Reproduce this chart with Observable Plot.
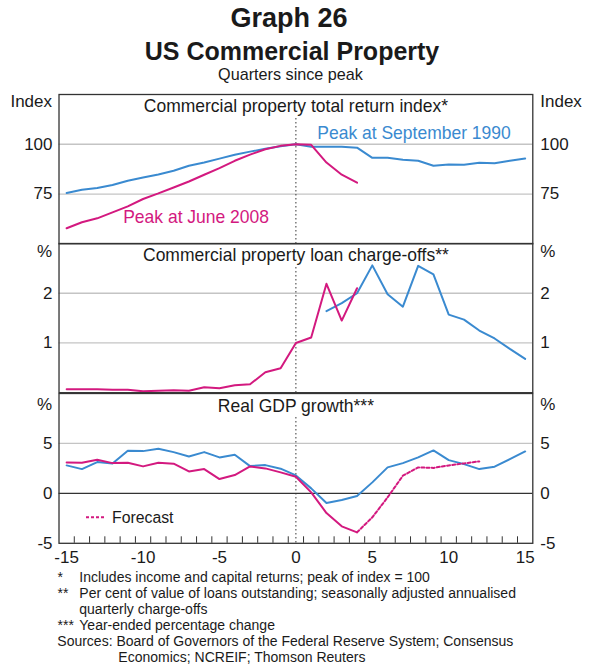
<!DOCTYPE html>
<html><head><meta charset="utf-8">
<script src="https://cdn.jsdelivr.net/npm/d3@7"></script>
<script src="https://cdn.jsdelivr.net/npm/@observablehq/plot@0.6"></script>
<style>
body{margin:0;background:#fff}
#root{position:relative;width:590px;height:666px;font-family:"Liberation Sans",Arial,sans-serif;color:#1a1a1a;overflow:hidden}
</style>
</head><body><div id="root"></div>
<script>
// ---------- DATA ----------
const quartersAll = [-15,-14,-13,-12,-11,-10,-9,-8,-7,-6,-5,-4,-3,-2,-1,0,1,2,3,4,5,6,7,8,9,10,11,12,13,14,15];
const quarters2008 = [-15,-14,-13,-12,-11,-10,-9,-8,-7,-6,-5,-4,-3,-2,-1,0,1,2,3,4];
const quartersChargeOffs1990 = [2,3,4,5,6,7,8,9,10,11,12,13,14,15];
const quartersForecast = [4,5,6,7,8,9,10,11,12];

const returnIndex1990 = [75.5,77.1,78.0,79.5,81.7,83.3,84.8,86.7,89.2,90.8,92.8,94.7,96.3,97.7,99.0,100,98.8,98.7,98.7,98.3,93.2,93.2,92.2,91.7,89.2,89.8,89.7,90.7,90.5,91.7,92.8];
const returnIndex2008 = [57.8,60.8,62.8,65.8,68.8,72.5,75.3,78.3,81.3,84.7,88.0,91.7,94.8,97.5,99.2,100,99.7,90.8,84.7,80.7];

const chargeOffs1990 = [1.64,1.80,2.0,2.56,1.98,1.73,2.55,2.38,1.57,1.47,1.25,1.09,0.88,0.68];
const chargeOffs2008 = [0.07,0.07,0.07,0.06,0.06,0.03,0.04,0.05,0.04,0.11,0.09,0.15,0.17,0.41,0.49,1.0,1.11,2.19,1.45,2.1];

const gdp1990 = [2.8,2.43,3.13,3.0,4.27,4.23,4.47,4.13,3.7,4.13,3.6,3.87,2.73,2.83,2.47,1.8,0.5,-0.97,-0.67,-0.27,1.1,2.6,3.03,3.6,4.3,3.33,2.93,2.43,2.67,3.43,4.2];
const gdp2008 = [3.1,3.07,3.37,3.03,3.07,2.7,3.07,2.97,2.2,2.43,1.43,1.83,2.7,2.5,2.1,1.67,0.1,-1.97,-3.3,-3.9];
const gdpForecast2008 = [-3.9,-2.4,-0.4,1.77,2.6,2.55,2.8,3.0,3.2];

const xTickLabels = [-15,-10,-5,0,5,10,15];
const xMinorTicks = [-14.5,-13.5,-12.5,-11.5,-10.5,-9.5,-8.5,-7.5,-6.5,-5.5,-4.5,-3.5,-2.5,-1.5,-0.5,0.5,1.5,2.5,3.5,4.5,5.5,6.5,7.5,8.5,9.5,10.5,11.5,12.5,13.5,14.5];
const yTicksReturn = [75,100];
const yTicksChargeOffs = [1,2];
const yTicksGdp = [-5,0,5];
const yGridGdp = [5];

const panelTitles = ["Commercial property total return index*", "Commercial property loan charge-offs**", "Real GDP growth***"];
const annotations = [
  {q: 1.4, v: 105.5, label: "Peak at September 1990", series: "1990"},
  {q: -11.3, v: 63.3, label: "Peak at June 2008", series: "2008"}
];
const footnotes = [
  {mark: "*", text: "Includes income and capital returns; peak of index = 100"},
  {mark: "**", text: "Per cent of value of loans outstanding; seasonally adjusted annualised"},
  {mark: "", text: "quarterly charge-offs"},
  {mark: "***", text: "Year-ended percentage change"}
];
const sources = ["Sources: Board of Governors of the Federal Reserve System; Consensus", "Economics; NCREIF; Thomson Reuters"];

// ---------- STYLE ----------
const FONT = '"Liberation Sans", Arial, sans-serif';
const BLUE = "#3a8ad0";
const PINK = "#d3197f";
const INK = "#1a1a1a";
const colors = {"1990": BLUE, "2008": PINK};

const zip = (qs, vs) => qs.map((q, i) => ({q, v: vs[i]}));
const root = document.getElementById("root");

function panel({top, frameH, mt, mb, yDomain, yTicks, grid, zero, unit, unitDy, title, titleDy, marks, bottomAxis}) {
  const height = frameH + mt + mb;
  const p = Plot.plot({
    width: 590, height,
    marginTop: mt, marginBottom: mb, marginLeft: 58.5, marginRight: 57.7,
    x: {domain: [-15.5, 15.5], axis: bottomAxis ? undefined : null},
    y: {domain: yDomain},
    style: {background: "transparent", overflow: "visible", fontFamily: FONT, fontSize: "17px", color: INK},
    marks: [
      Plot.ruleY(grid, {stroke: "#c4c4c4", strokeWidth: 1.3}),
      zero ? Plot.ruleY([0], {stroke: "#333", strokeWidth: 1.3}) : null,
      Plot.ruleX([0], {stroke: "#333", strokeWidth: 1, strokeDasharray: "1.5,2.5", insetTop: 24}),
      ...marks,
      Plot.axisY({anchor: "left", ticks: yTicks, tickSize: 0, tickPadding: 6.5, label: null, tickFormat: d => String(d)}),
      Plot.axisY({anchor: "right", ticks: yTicks, tickSize: 0, tickPadding: 7.5, label: null, tickFormat: d => String(d)}),
      Plot.text([unit], {text: d => d, frameAnchor: "top-left", lineAnchor: "middle", textAnchor: "end", dx: -7, dy: unitDy, fill: INK}),
      Plot.text([unit], {text: d => d, frameAnchor: "top-right", lineAnchor: "middle", textAnchor: "start", dx: 7.5, dy: unitDy, fill: INK}),
      Plot.text([title], {text: d => d, frameAnchor: "top", lineAnchor: "middle", dy: titleDy, fontSize: 17.5, fill: INK}),
      bottomAxis ? Plot.tickX(xMinorTicks, {x: d => d, stroke: "#333", strokeWidth: 1, insetTop: frameH - 6.5}) : null,
      bottomAxis ? Plot.axisX({anchor: "bottom", ticks: xTickLabels, tickSize: 0, tickPadding: 8, label: null, tickFormat: d => String(d)}) : null,
      Plot.frame({stroke: "#333", strokeWidth: 1.3})
    ]
  });
  p.style.position = "absolute";
  p.style.left = "0px";
  p.style.top = (top - mt) + "px";
  root.append(p);
}

// Panel 1: total return index
panel({
  top: 94, frameH: 149.3, mt: 10, mb: 0, yDomain: [50, 125], yTicks: yTicksReturn, grid: yTicksReturn,
  unit: "Index", unitDy: 6.7, title: panelTitles[0], titleDy: 12,
  marks: [
    Plot.line(zip(quartersAll, returnIndex1990), {x: "q", y: "v", stroke: BLUE, strokeWidth: 2}),
    Plot.line(zip(quarters2008, returnIndex2008), {x: "q", y: "v", stroke: PINK, strokeWidth: 2}),
    Plot.text(annotations, {x: "q", y: "v", text: "label", fill: d => colors[d.series], textAnchor: "start", fontSize: 17.5})
  ]
});

// Panel 2: loan charge-offs
panel({
  top: 243.3, frameH: 149.2, mt: 0, mb: 0, yDomain: [0, 3], yTicks: yTicksChargeOffs, grid: yTicksChargeOffs,
  unit: "%", unitDy: 8.4, title: panelTitles[1], titleDy: 11.7,
  marks: [
    Plot.line(zip(quartersChargeOffs1990, chargeOffs1990), {x: "q", y: "v", stroke: BLUE, strokeWidth: 2}),
    Plot.line(zip(quarters2008, chargeOffs2008), {x: "q", y: "v", stroke: PINK, strokeWidth: 2})
  ]
});

// Panel 3: real GDP growth
panel({
  top: 392.5, frameH: 149.8, mt: 0, mb: 30, yDomain: [-5, 10], yTicks: yTicksGdp, grid: yGridGdp, zero: true,
  unit: "%", unitDy: 11.5, title: panelTitles[2], titleDy: 13.3, bottomAxis: true,
  marks: [
    Plot.line(zip(quartersAll, gdp1990), {x: "q", y: "v", stroke: BLUE, strokeWidth: 2}),
    Plot.line(zip(quarters2008, gdp2008), {x: "q", y: "v", stroke: PINK, strokeWidth: 2}),
    Plot.line(zip(quartersForecast, gdpForecast2008), {x: "q", y: "v", stroke: PINK, strokeWidth: 2, strokeDasharray: "3,2.2"})
  ]
});

// ---------- Titles, legend, footnotes (overlay svg) ----------
const svg = d3.select(root).append("svg")
  .attr("width", 590).attr("height", 666)
  .style("position", "absolute").style("left", 0).style("top", 0)
  .style("pointer-events", "none")
  .attr("font-family", FONT).attr("fill", INK);

svg.append("text").attr("x", 289).attr("y", 27.3).attr("text-anchor", "middle")
  .attr("font-size", 27).attr("font-weight", "bold").text("Graph 26");
svg.append("text").attr("x", 292).attr("y", 59.5).attr("text-anchor", "middle")
  .attr("font-size", 25).attr("font-weight", "bold").text("US Commercial Property");
svg.append("text").attr("x", 290.5).attr("y", 80).attr("text-anchor", "middle")
  .attr("font-size", 16.2).text("Quarters since peak");

// legend
svg.append("line").attr("x1", 86).attr("x2", 105).attr("y1", 517.3).attr("y2", 517.3)
  .attr("stroke", PINK).attr("stroke-width", 2).attr("stroke-dasharray", "3,2");
svg.append("text").attr("x", 112).attr("y", 523).attr("font-size", 15.8).text("Forecast");

// footnotes
footnotes.forEach((f, i) => {
  const y = 582 + 16 * i;
  if (f.mark) svg.append("text").attr("x", 57.5).attr("y", y).attr("font-size", 14).text(f.mark);
  svg.append("text").attr("x", 79.3).attr("y", y).attr("font-size", 14).text(f.text);
});
svg.append("text").attr("x", 57.3).attr("y", 582 + 16 * 4).attr("font-size", 14).text(sources[0]);
svg.append("text").attr("x", 118.3).attr("y", 582 + 16 * 4 + 15.5).attr("font-size", 14).text(sources[1]);
</script>
</body></html>
